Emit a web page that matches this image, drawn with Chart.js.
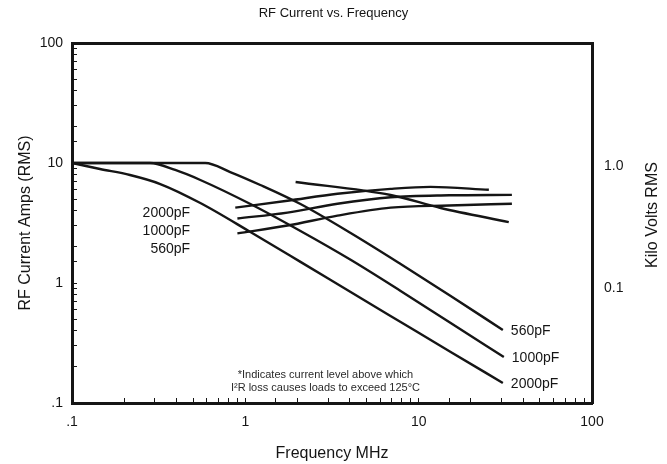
<!DOCTYPE html>
<html>
<head>
<meta charset="utf-8">
<title>RF Current vs. Frequency</title>
<script src="https://cdn.jsdelivr.net/npm/chart.js@4.4.1/dist/chart.umd.min.js"></script>
<style>
  html, body { margin: 0; padding: 0; background: #fff; }
  #wrap { width: 667px; height: 464px; }
</style>
</head>
<body>
<div id="wrap"><canvas id="rfChart" width="667" height="464"></canvas></div>
<script>
const FONT = '"Liberation Sans", Arial, Helvetica, sans-serif';
const INK = '#151515';

// RF current (A RMS) against frequency (MHz), one curve per capacitance
const freq560 = [0.1, 0.587, 0.818, 1.22, 2.08, 4.05, 7.87, 15.3, 30.6];
const amps560 = [10, 10, 8.41, 6.56, 4.55, 2.61, 1.44, 0.779, 0.406];
const freq1000 = [0.1, 0.282, 0.394, 0.55, 1.07, 2.08, 4.05, 7.87, 15.3, 31];
const amps1000 = [10, 10, 8.75, 7.22, 4.55, 2.71, 1.56, 0.858, 0.464, 0.242];
const freq2000 = [0.1, 0.145, 0.216, 0.323, 0.55, 1.07, 2.08, 4.05, 7.87, 15.3, 30.6];
const amps2000 = [10, 8.91, 7.94, 6.68, 4.64, 2.66, 1.5, 0.841, 0.473, 0.266, 0.147];

// voltage curves (kV RMS, right axis)
const freqVoltA = [0.875, 1.75, 3.4, 6.89, 11.7, 25.4];
const kvVoltA = [0.456, 0.519, 0.592, 0.65, 0.675, 0.638];
const freqVoltB = [0.9, 1.75, 3.4, 6.9, 15, 34.5];
const kvVoltB = [0.371, 0.415, 0.491, 0.555, 0.575, 0.58];
const freqVoltC = [0.9, 1.75, 3.4, 6.9, 15, 34.5];
const kvVoltC = [0.28, 0.325, 0.392, 0.456, 0.475, 0.491];

// current limit line (A RMS)
const freqLimit = [1.95, 6.89, 13.4, 33.1];
const ampsLimit = [6.95, 5.41, 4.22, 3.22];

// axis tick labels
const xTickValues = [0.1, 1, 10, 100];
const xTickLabels = ['.1', '1', '10', '100'];
const yTickValues = [0.1, 1, 10, 100];
const yTickLabels = ['.1', '1', '10', '100'];
const y2TickValues = [0.1, 1];
const y2TickLabels = ['0.1', '1.0'];

// text anchors, in data units
const curveNames = ['560pF', '1000pF', '2000pF'];
const leftLabelNames = ['2000pF', '1000pF', '560pF'];
const leftLabelFreq = 0.48;
const leftLabelAmps = [3.83, 2.71, 1.92];
const noteLines = ['*Indicates current level above which', 'I\u00B2R loss causes loads to exceed 125\u00B0C'];
const noteFreq = 2.9;
const noteAmps = [0.171, 0.133];

function pickLabel(values, labels) {
  return (v) => {
    const i = values.findIndex((t) => Math.abs(Math.log10(v) - Math.log10(t)) < 1e-6);
    return i >= 0 ? labels[i] : '';
  };
}

const toPoints = (xs, ys) => xs.map((x, i) => ({ x, y: ys[i] }));

function curve(label, xs, ys, axis) {
  return {
    label,
    data: toPoints(xs, ys),
    yAxisID: axis,
    borderColor: INK,
    borderWidth: 2.4,
    pointRadius: 0,
    fill: false,
    cubicInterpolationMode: 'monotone',
  };
}

const currentCurves = [
  { freq: freq560, amps: amps560 },
  { freq: freq1000, amps: amps1000 },
  { freq: freq2000, amps: amps2000 },
];

const textPlugin = {
  id: 'chartText',
  afterDatasetsDraw(chart) {
    const { ctx, scales: { x, y }, chartArea } = chart;
    ctx.save();
    ctx.fillStyle = INK;
    ctx.textBaseline = 'middle';

    // capacitance labels at the end of each current curve
    ctx.font = `14px ${FONT}`;
    ctx.textAlign = 'left';
    currentCurves.forEach((c, i) => {
      const last = c.freq.length - 1;
      ctx.fillText(curveNames[i], x.getPixelForValue(c.freq[last]) + 8, y.getPixelForValue(c.amps[last]) + 1);
    });

    // capacitance labels for the voltage curves
    ctx.textAlign = 'right';
    leftLabelNames.forEach((name, i) => {
      ctx.fillText(name, x.getPixelForValue(leftLabelFreq), y.getPixelForValue(leftLabelAmps[i]));
    });

    // footnote
    ctx.font = `11px ${FONT}`;
    ctx.fillStyle = '#2a2a2a';
    ctx.textAlign = 'center';
    noteLines.forEach((line, i) => {
      ctx.fillText(line, x.getPixelForValue(noteFreq), y.getPixelForValue(noteAmps[i]));
    });

    // right axis title reads bottom to top, like the left one
    ctx.font = `16px ${FONT}`;
    ctx.fillStyle = INK;
    ctx.translate(653, (chartArea.top + chartArea.bottom) / 2 - 8);
    ctx.rotate(-Math.PI / 2);
    ctx.fillText('Kilo Volts RMS', 0, 0);
    ctx.restore();
  },
};

const insideTicks = { drawOnChartArea: false, drawTicks: true, tickLength: -5, tickColor: INK, tickWidth: 1 };
const frame = { display: true, color: INK, width: 3 };

new Chart(document.getElementById('rfChart'), {
  type: 'line',
  data: {
    datasets: [
      curve('560pF', freq560, amps560, 'y'),
      curve('1000pF', freq1000, amps1000, 'y'),
      curve('2000pF', freq2000, amps2000, 'y'),
      curve('V 2000pF', freqVoltA, kvVoltA, 'y2'),
      curve('V 1000pF', freqVoltB, kvVoltB, 'y2'),
      curve('V 560pF', freqVoltC, kvVoltC, 'y2'),
      curve('Limit', freqLimit, ampsLimit, 'y'),
    ],
  },
  options: {
    responsive: false,
    animation: false,
    devicePixelRatio: 1,
    layout: { padding: 0 },
    plugins: {
      legend: { display: false },
      tooltip: { enabled: false },
      title: {
        display: true,
        text: 'RF Current vs. Frequency',
        color: INK,
        font: { family: FONT, size: 13, weight: 'normal' },
        padding: { top: 6, bottom: 0 },
      },
    },
    scales: {
      x: {
        type: 'logarithmic',
        position: 'bottom',
        min: 0.1,
        max: 100,
        afterFit: (s) => { s.height = 61; },
        ticks: { autoSkip: false, maxRotation: 0, color: INK, font: { family: FONT, size: 14 }, padding: 16, callback: pickLabel(xTickValues, xTickLabels) },
        grid: insideTicks,
        border: frame,
        title: { display: true, text: 'Frequency MHz', color: INK, font: { family: FONT, size: 16 }, padding: { top: 0, bottom: 1 } },
      },
      x2: {
        type: 'logarithmic',
        position: 'top',
        min: 0.1,
        max: 100,
        afterFit: (s) => { s.height = 21.4; },
        ticks: { display: false },
        grid: { drawOnChartArea: false, drawTicks: false },
        border: frame,
      },
      y: {
        type: 'logarithmic',
        position: 'left',
        min: 0.1,
        max: 100,
        afterFit: (s) => { s.width = 72; },
        ticks: { autoSkip: false, color: INK, font: { family: FONT, size: 14 }, padding: 14, callback: pickLabel(yTickValues, yTickLabels) },
        grid: insideTicks,
        border: frame,
        title: { display: true, text: 'RF Current Amps (RMS)', color: INK, font: { family: FONT, size: 16 }, padding: { top: 16, bottom: 0 } },
      },
      y2: {
        type: 'logarithmic',
        position: 'right',
        min: 0.0114,
        max: 10.2,
        afterFit: (s) => { s.width = 75; },
        ticks: { autoSkip: false, color: INK, font: { family: FONT, size: 14 }, padding: 12, callback: pickLabel(y2TickValues, y2TickLabels) },
        grid: { drawOnChartArea: false, drawTicks: false },
        border: frame,
      },
    },
  },
  plugins: [textPlugin],
});
</script>
</body>
</html>
